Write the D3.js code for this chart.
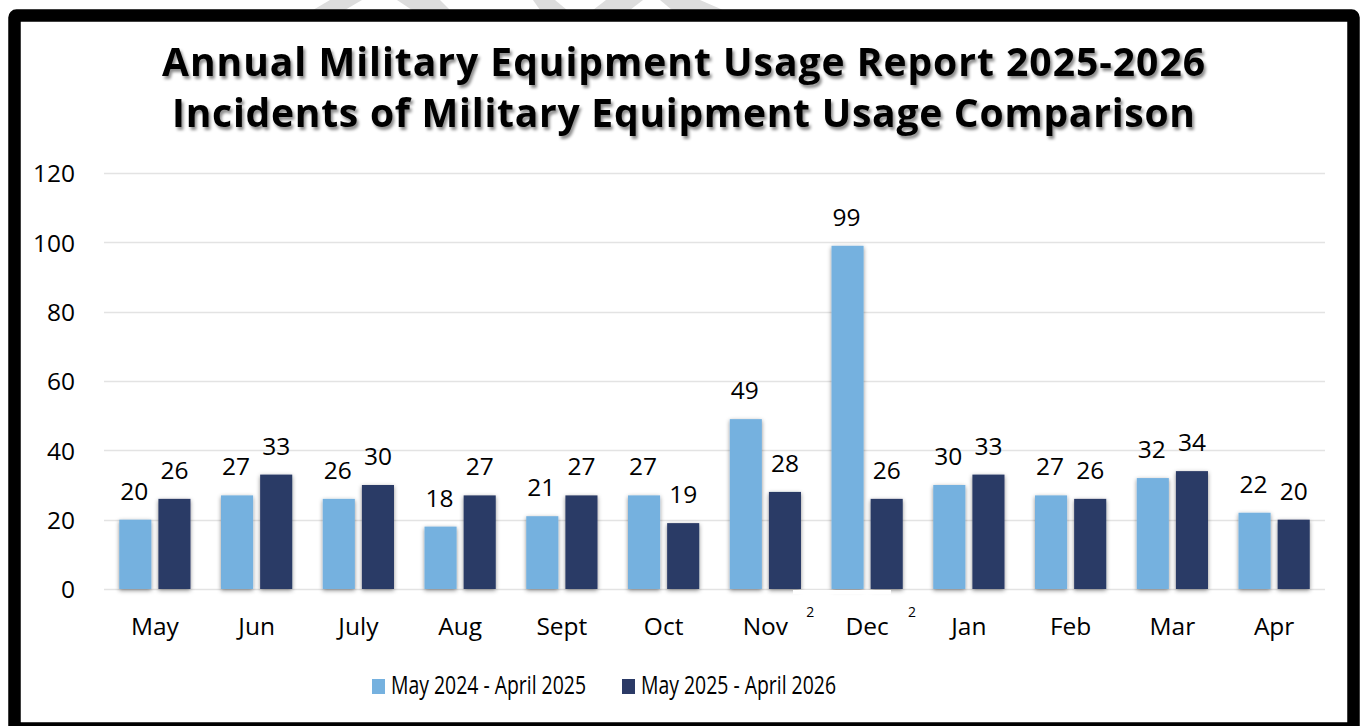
<!DOCTYPE html>
<html>
<head>
<meta charset="utf-8">
<script src="https://cdn.jsdelivr.net/npm/d3@7"></script>
<style>
  html, body { margin: 0; padding: 0; background: #fff; }
  svg { display: block; }
  text { font-family: "Open Sans", Lato, sans-serif; fill: #000; }
</style>
</head>
<body>
<svg id="chart" width="1361" height="726"></svg>
<script>
// ---- data ----
const months = ["May", "Jun", "July", "Aug", "Sept", "Oct", "Nov", "Dec", "Jan", "Feb", "Mar", "Apr"];
const seriesNames = ["May 2024 - April 2025", "May 2025 - April 2026"];
const prevYear = [20, 27, 26, 18, 21, 27, 49, 99, 30, 27, 32, 22];
const currYear = [26, 33, 30, 27, 27, 19, 28, 26, 33, 26, 34, 20];
const yTicks = [0, 20, 40, 60, 80, 100, 120];
const footnoteMonths = ["Nov", "Dec"];
const titleLines = ["Annual Military Equipment Usage Report 2025-2026",
                    "Incidents of Military Equipment Usage Comparison"];

const colors = ["#75B1DF", "#2B3A66"];

const svg = d3.select("#chart");
const defs = svg.append("defs");
const bs = defs.append("filter").attr("id", "barShadow")
  .attr("x", "-30%").attr("y", "-10%").attr("width", "160%").attr("height", "125%");
bs.append("feDropShadow").attr("dx", 0).attr("dy", 1.5).attr("stdDeviation", 2.2)
  .attr("flood-color", "#000").attr("flood-opacity", 0.45);
const ts = defs.append("filter").attr("id", "titleShadow")
  .attr("x", "-5%").attr("y", "-30%").attr("width", "110%").attr("height", "160%");
ts.append("feDropShadow").attr("dx", 2).attr("dy", 3).attr("stdDeviation", 1.8)
  .attr("flood-color", "#000").attr("flood-opacity", 0.45);

// watermark fragments above the frame (decorative)
const wm = [
  [[313,10],[330,0],[362,0],[345,10]],
  [[397,0],[440,0],[450,10],[412,10]],
  [[533,0],[555,0],[567,10],[540,10]],
  [[593,10],[606,0],[643,0],[630,10]],
  [[660,0],[700,0],[723,10],[672,10]]
];
svg.selectAll(".wm").data(wm).join("polygon")
  .attr("points", d => d.map(p => p.join(",")).join(" "))
  .attr("fill", "#DDDDDD");

// scales
const x0 = d3.scaleBand().domain(months).range([104, 1325]).paddingInner(0.3).paddingOuter(0.15);
const x1 = d3.scaleBand().domain([0, 1]).range([0, x0.bandwidth()]).paddingInner(0.18).paddingOuter(0);
const y = d3.scaleLinear().domain([0, 120]).range([589, 173]);

// gridlines
svg.append("g").selectAll("line").data(yTicks).join("line")
  .attr("x1", 104).attr("x2", 1325)
  .attr("y1", d => Math.round(y(d)) + 0.5).attr("y2", d => Math.round(y(d)) + 0.5)
  .attr("stroke", "#E3E3E3").attr("stroke-width", 1.5);

// y axis labels
const yAxis = d3.axisLeft(y).tickValues(yTicks).tickSize(0).tickPadding(0);
const yg = svg.append("g").attr("transform", "translate(75,0)").call(yAxis);
yg.select(".domain").remove();
yg.selectAll("text").attr("font-size", 24.5).attr("font-family", "'Open Sans', sans-serif")
  .attr("fill", "#000").attr("dy", "0.36em");

// bars
const data = months.map((m, i) => ({ m, vals: [prevYear[i], currYear[i]] }));
const groups = svg.append("g").selectAll("g").data(data).join("g")
  .attr("transform", d => `translate(${x0(d.m)},0)`);
groups.selectAll("rect").data(d => d.vals.map((v, k) => ({ v, k }))).join("rect")
  .attr("x", d => x1(d.k)).attr("width", x1.bandwidth())
  .attr("y", d => y(d.v)).attr("height", d => y(0) - y(d.v))
  .attr("fill", d => colors[d.k])
  .attr("filter", "url(#barShadow)");
groups.selectAll("text.val").data(d => d.vals.map((v, k) => ({ v, k }))).join("text")
  .attr("class", "val")
  .attr("x", d => x1(d.k) + x1.bandwidth() / 2 + (d.k === 0 ? -1 : 0))
  .attr("y", d => y(d.v) - 20)
  .attr("text-anchor", "middle").attr("font-size", 24.5)
  .text(d => d.v);

// white gap in baseline under Nov/Dec (footnote boxes)
svg.append("rect").attr("x", 793).attr("y", 590).attr("width", 98).attr("height", 4).attr("fill", "#fff");

// x axis labels
const xAxis = d3.axisBottom(x0).tickSize(0).tickPadding(0);
const xg = svg.append("g").attr("transform", "translate(0,635)").call(xAxis);
xg.select(".domain").remove();
xg.selectAll("text").attr("font-size", 24.5).attr("font-family", "'Open Sans', sans-serif")
  .attr("fill", "#000").attr("dy", 0).attr("y", 0);

// footnote superscripts
svg.selectAll(".fn").data(footnoteMonths).join("text")
  .attr("class", "fn")
  .attr("x", d => x0(d) + x0.bandwidth() / 2 + 45)
  .attr("y", 617).attr("text-anchor", "middle").attr("font-size", 14)
  .text("2");

// legend
const legX = [372, 622];
const leg = svg.append("g").selectAll("g").data(seriesNames).join("g")
  .attr("transform", (d, i) => `translate(${legX[i]},0)`);
leg.append("rect").attr("x", 0).attr("y", 679).attr("width", 13).attr("height", 15)
  .attr("fill", (d, i) => colors[i]);
leg.append("text").attr("x", 19).attr("y", 694).attr("font-size", 25)
  .attr("font-family", "Lato, 'Open Sans', sans-serif")
  .attr("textLength", 195).attr("lengthAdjust", "spacingAndGlyphs")
  .text(d => d);

// title
const titleX = [[162, 1205], [172, 1195]];
svg.append("g").attr("filter", "url(#titleShadow)")
  .selectAll("text").data(titleLines).join("text")
  .attr("x", (d, i) => titleX[i][0]).attr("y", (d, i) => [76, 127][i])
  .attr("font-size", 39).attr("font-weight", 700)
  .attr("textLength", (d, i) => titleX[i][1] - titleX[i][0])
  .attr("lengthAdjust", "spacing")
  .text(d => d);

// frame
svg.append("rect").attr("x", 14.5).attr("y", 15.5).attr("width", 1339).attr("height", 713)
  .attr("rx", 2).attr("fill", "none").attr("stroke", "#000").attr("stroke-width", 12.5);
</script>
</body>
</html>
